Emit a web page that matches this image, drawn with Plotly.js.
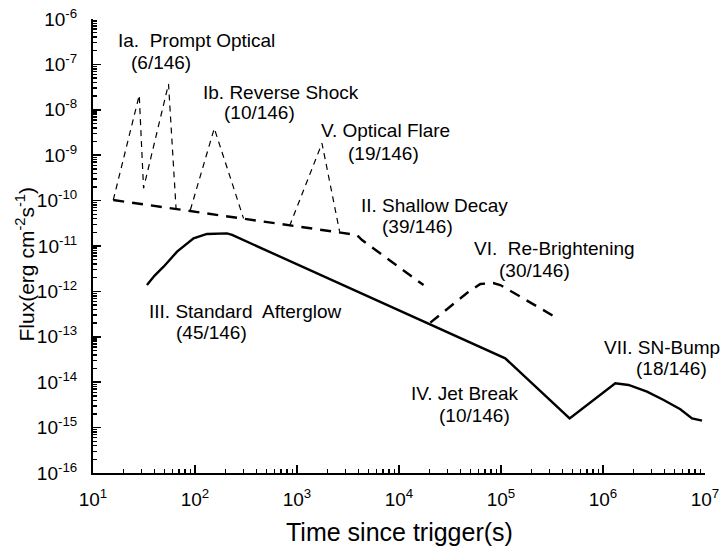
<!DOCTYPE html>
<html>
<head>
<meta charset="utf-8">
<script src="https://cdn.plot.ly/plotly-3.0.1.min.js"></script>
<style>
  html, body { margin: 0; padding: 0; background: #fff; }
  #chart { width: 724px; height: 554px; }
</style>
</head>
<body>
<div id="chart"></div>
<script>
// ---- Data (time in s, flux in erg cm^-2 s^-1) ----
// III / IV / VII: standard afterglow, jet break, SN bump (solid)
const solidTime = [33.8, 40, 49.2, 66.7, 96.8, 131, 206, 231, 110000, 471000, 1.32e6, 1.78e6, 2.7e6, 3.93e6, 5.73e6, 7.46e6, 9.35e6];
const solidFlux = [1.38e-12, 2.2e-12, 3.5e-12, 7.5e-12, 1.48e-11, 1.84e-11, 1.9e-11, 1.75e-11, 3.36e-14, 1.6e-15, 9.46e-15, 8.7e-15, 6.2e-15, 4.06e-15, 2.53e-15, 1.6e-15, 1.42e-15];

// II: shallow decay (thick dashed)
const shallowTime = [15.8, 3200, 3870, 4340, 17400];
const shallowFlux = [1.03e-10, 1.84e-11, 1.75e-11, 1.35e-11, 1.38e-12];

// Ia / Ib / V: prompt optical, reverse shock, optical flare (thin dashed)
const flareTime = [15.8, 28.4, 31.3, 55, 65.2, null, 90, 154.6, 299, null, 845, 1758, 2618];
const flareFlux = [1.03e-10, 2.1e-8, 1.87e-10, 3.7e-8, 6.76e-11, null, 6.2e-11, 3.9e-9, 4.07e-11, null, 2.75e-11, 1.83e-9, 2.07e-11];

// VI: re-brightening (thick dashed)
const rebrightTime = [20280, 47750, 62700, 83900, 98400, 340000];
const rebrightFlux = [2.05e-13, 9.7e-13, 1.46e-12, 1.53e-12, 1.38e-12, 2.73e-13];

// Labels
const labelTexts = [
  "Ia.  Prompt Optical", "(6/146)",
  "Ib. Reverse Shock", "(10/146)",
  "V. Optical Flare", "(19/146)",
  "II. Shallow Decay", "(39/146)",
  "VI.  Re-Brightening", "(30/146)",
  "III. Standard  Afterglow", "(45/146)",
  "IV. Jet Break", "(10/146)",
  "VII. SN-Bump", "(18/146)"
];

// Axis tick exponents
const xExponents = [1, 2, 3, 4, 5, 6, 7];
const yExponents = [-16, -15, -14, -13, -12, -11, -10, -9, -8, -7, -6];

// ---- Build ----
const FONT = "Liberation Sans, Arial, Helvetica, sans-serif";

function minorVals(exps) {
  const out = [];
  for (let i = 0; i < exps.length - 1; i++) {
    for (let m = 2; m <= 9; m++) out.push(m * Math.pow(10, exps[i]));
  }
  return out;
}

const traces = [
  { x: solidTime, y: solidFlux, mode: "lines", line: { color: "#000", width: 2.4 }, hoverinfo: "skip" },
  { x: shallowTime, y: shallowFlux, mode: "lines", line: { color: "#000", width: 2.4, dash: "11px,8px" }, hoverinfo: "skip" },
  { x: flareTime, y: flareFlux, mode: "lines", connectgaps: false, line: { color: "#000", width: 1.2, dash: "6px,5px" }, hoverinfo: "skip" },
  { x: rebrightTime, y: rebrightFlux, mode: "lines", line: { color: "#000", width: 2.4, dash: "11px,8px" }, hoverinfo: "skip" }
];

// label positions: [log10 x of left edge, log10 y of middle]
const labelPos = [
  [1.238, -6.463], [1.366, -6.969],
  [2.072, -7.608], [2.277, -8.060],
  [3.229, -8.445], [3.493, -8.952],
  [3.621, -10.097], [3.826, -10.581],
  [4.728, -11.044], [4.973, -11.529],
  [1.542, -12.447], [1.807, -12.916],
  [4.111, -14.238], [4.385, -14.738],
  [6.003, -13.225], [6.317, -13.709]
];

const annotations = labelTexts.map((t, i) => ({
  text: t, x: labelPos[i][0], y: labelPos[i][1], xref: "x", yref: "y",
  xanchor: "left", yanchor: "middle", showarrow: false,
  font: { family: FONT, size: 19, color: "#000" }, borderpad: 0
}));

annotations.push({
  text: "Flux(erg cm<sup>-2</sup>s<sup>-1</sup>)", xref: "paper", yref: "paper",
  x: -0.1106, y: 0.46, xanchor: "center", yanchor: "middle", textangle: -90,
  showarrow: false, font: { family: FONT, size: 21, color: "#000" }
});
annotations.push({
  text: "Time since trigger(s)", xref: "paper", yref: "paper",
  x: 0.5, y: -0.1293, xanchor: "center", yanchor: "middle",
  showarrow: false, font: { family: FONT, size: 25, color: "#000" }
});

const layout = {
  width: 724, height: 554,
  margin: { l: 93, r: 19, t: 19, b: 81 },
  paper_bgcolor: "#fff", plot_bgcolor: "#fff",
  showlegend: false,
  font: { family: FONT, color: "#000" },
  xaxis: {
    type: "log", range: [1, 7], showgrid: false, zeroline: false,
    showline: true, linecolor: "#000", linewidth: 2,
    ticks: "inside", ticklen: 8, tickwidth: 1.5, tickcolor: "#000",
    tickmode: "array",
    tickvals: xExponents.map(e => Math.pow(10, e)),
    ticktext: xExponents.map(e => "10<sup>" + e + "</sup>"),
    tickfont: { family: FONT, size: 19, color: "#000" },
    ticklabelstandoff: 8,
    minor: { tickmode: "array", tickvals: minorVals(xExponents), ticks: "inside", ticklen: 4, tickwidth: 1.5, tickcolor: "#000", showgrid: false }
  },
  yaxis: {
    type: "log", range: [-16, -6], showgrid: false, zeroline: false,
    showline: true, linecolor: "#000", linewidth: 2,
    ticks: "inside", ticklen: 8, tickwidth: 1.5, tickcolor: "#000",
    tickmode: "array",
    tickvals: yExponents.map(e => Math.pow(10, e)),
    ticktext: yExponents.map(e => "10<sup>" + e + "</sup>"),
    tickfont: { family: FONT, size: 19, color: "#000" },
    ticklabelstandoff: 10,
    minor: { tickmode: "array", tickvals: minorVals(yExponents), ticks: "inside", ticklen: 4, tickwidth: 1.5, tickcolor: "#000", showgrid: false }
  },
  annotations: annotations
};

Plotly.newPlot("chart", traces, layout, { staticPlot: true, displayModeBar: false });
</script>
</body>
</html>
